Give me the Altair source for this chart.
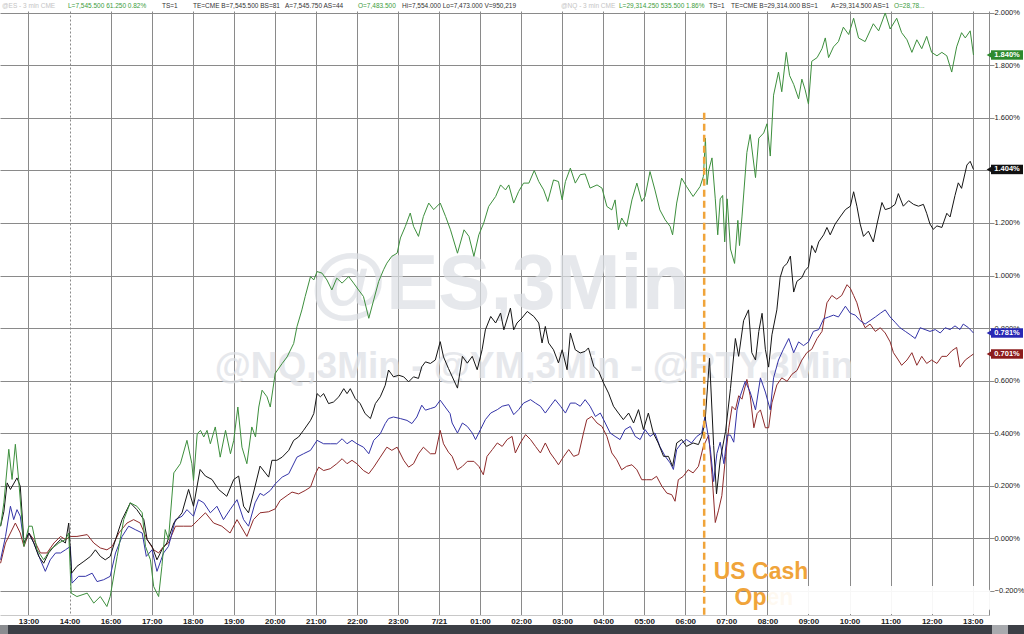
import altair as alt
import pandas as pd

hour_labels = ["13:00", "14:00", "16:00", "17:00", "18:00", "19:00", "20:00", "21:00",
               "22:00", "23:00", "7/21", "01:00", "02:00", "03:00", "04:00", "05:00",
               "06:00", "07:00", "08:00", "09:00", "10:00", "11:00", "12:00", "13:00"]

# x = hour slot on the axis (0 = first 13:00 gridline), y = % change
nq_k = [-0.68, -0.60, -0.48, -0.40, -0.32, -0.24, -0.11, 0.01, 0.09, 0.21, 0.37, 0.53, 0.74, 0.90, 0.98,
        1.04, 1.18, 1.43, 1.59, 1.75, 1.91, 1.99, 2.16, 2.32, 2.48, 2.64, 2.77, 2.85, 2.97, 3.05, 3.17,
        3.25, 3.33, 3.41, 3.54, 3.70, 3.86, 3.98, 4.02, 4.11, 4.19, 4.27, 4.35, 4.43, 4.55, 4.67, 4.80,
        4.92, 5.00, 5.10, 5.20, 5.32, 5.44, 5.53, 5.61, 5.69, 5.81, 5.89, 6.01, 6.18, 6.30, 6.46, 6.54,
        6.66, 6.74, 6.87, 6.95, 7.03, 7.15, 7.27, 7.39, 7.51, 7.64, 7.80, 7.92, 8.04, 8.16, 8.29, 8.41,
        8.53, 8.65, 8.73, 8.85, 8.98, 9.06, 9.18, 9.30, 9.38, 9.50, 9.62, 9.75, 9.87, 10.03, 10.16, 10.28,
        10.45, 10.61, 10.73, 10.85, 10.97, 11.09, 11.21, 11.38, 11.50, 11.62, 11.70, 11.82, 11.94, 12.06,
        12.19, 12.32, 12.43, 12.55, 12.65, 12.79, 12.91, 13.00, 13.08, 13.20, 13.32, 13.44, 13.56, 13.68,
        13.85, 13.97, 14.09, 14.21, 14.29, 14.37, 14.45, 14.57, 14.70, 14.82, 14.94, 15.02, 15.14, 15.26,
        15.38, 15.51, 15.63, 15.69, 15.79, 15.91, 16.03, 16.19, 16.36, 16.44, 16.49, 16.53, 16.57, 16.65,
        16.73, 16.79, 16.85, 16.91, 16.96, 17.02, 17.10, 17.20, 17.28, 17.32, 17.38, 17.50, 17.58, 17.71,
        17.79, 17.91, 17.99, 18.07, 18.15, 18.27, 18.35, 18.46, 18.54, 18.64, 18.76, 18.84, 18.92, 19.00,
        19.08, 19.21, 19.33, 19.41, 19.49, 19.61, 19.73, 19.85, 19.98, 20.10, 20.22, 20.38, 20.50, 20.58,
        20.71, 20.87, 20.99, 21.15, 21.27, 21.40, 21.52, 21.64, 21.76, 21.88, 22.00, 22.13, 22.25, 22.37,
        22.49, 22.61, 22.73, 22.82, 22.94, 23.02]
nq_v = [0.045, 0.134, 0.338, 0.223, 0.357, 0.223, -0.032, 0.045, 0.045, -0.045, -0.083, -0.045, -0.019, -0.006, 0.019,
        -0.210, -0.223, -0.210, -0.248, -0.223, -0.261, -0.223, -0.070, 0.070, 0.134, 0.121, 0.096, -0.032, -0.083, -0.185, -0.223,
        -0.108, 0.032, -0.006, 0.248, 0.283, 0.372, 0.283, 0.219, 0.397, 0.410, 0.385, 0.410, 0.359, 0.423, 0.308, 0.410,
        0.321, 0.372, 0.499, 0.346, 0.283, 0.423, 0.385, 0.499, 0.563, 0.538, 0.499, 0.627, 0.665, 0.690, 0.741, 0.805,
        0.869, 0.920, 0.996, 0.983, 1.015, 1.009, 0.983, 0.945, 0.990, 0.971, 0.996, 0.971, 0.945, 0.920, 0.837, 0.907,
        0.977, 1.022, 1.047, 1.073, 1.085, 1.143, 1.187, 1.238, 1.187, 1.149, 1.225, 1.276, 1.251, 1.276, 1.225, 1.174,
        1.085, 1.174, 1.149, 1.073, 1.155, 1.200, 1.263, 1.301, 1.345, 1.326, 1.345, 1.276, 1.320, 1.352,
        1.352, 1.400, 1.358, 1.326, 1.282, 1.364, 1.358, 1.288, 1.358, 1.409, 1.352, 1.384, 1.387, 1.333,
        1.345, 1.333, 1.263, 1.250, 1.288, 1.174, 1.219, 1.187, 1.288, 1.352, 1.282, 1.301, 1.396, 1.326,
        1.250, 1.212, 1.187, 1.155, 1.276, 1.371, 1.339, 1.301, 1.339, 1.377, 1.523, 1.346, 1.401, 1.448,
        1.292, 1.155, 1.292, 1.305, 1.128, 1.292, 1.101, 1.046, 1.210, 1.114, 1.223, 1.469, 1.537, 1.373,
        1.523, 1.543, 1.578, 1.455, 1.687, 1.775, 1.700, 1.850, 1.762, 1.728, 1.673, 1.748, 1.707, 1.653,
        1.816, 1.830, 1.864, 1.905, 1.830, 1.871, 1.891, 1.946, 1.918, 1.980, 1.905, 1.891, 1.932, 1.959,
        1.932, 2.000, 1.939, 1.980, 1.925, 1.898, 1.850, 1.898, 1.864, 1.911, 1.850, 1.837, 1.850, 1.837,
        1.775, 1.871, 1.925, 1.905, 1.932, 1.840]

es_k = [-0.68, -0.60, -0.52, -0.44, -0.28, -0.20, -0.11, 0.01, 0.13, 0.25, 0.37, 0.49, 0.62, 0.78, 0.90, 0.98,
        1.05, 1.18, 1.35, 1.51, 1.63, 1.75, 1.87, 1.99, 2.12, 2.28, 2.48, 2.64, 2.81, 2.89, 3.01, 3.13, 3.25,
        3.37, 3.54, 3.74, 3.90, 4.02, 4.18, 4.31, 4.47, 4.63, 4.83, 5.00, 5.12, 5.24, 5.36, 5.52, 5.64, 5.85,
        5.93, 6.05, 6.18, 6.34, 6.46, 6.58, 6.70, 6.87, 6.95, 7.03, 7.11, 7.19, 7.31, 7.43, 7.56, 7.68, 7.76,
        7.84, 7.96, 8.08, 8.20, 8.33, 8.45, 8.57, 8.69, 8.77, 8.89, 9.02, 9.14, 9.26, 9.38, 9.50, 9.58, 9.67,
        9.79, 9.91, 10.03, 10.11, 10.23, 10.45, 10.57, 10.69, 10.81, 10.93, 11.05, 11.13, 11.26, 11.38, 11.50,
        11.58, 11.74, 11.82, 11.90, 12.02, 12.15, 12.31, 12.43, 12.51, 12.59, 12.67, 12.79, 12.91, 13.00, 13.12,
        13.20, 13.32, 13.44, 13.56, 13.64, 13.77, 13.89, 14.01, 14.13, 14.25, 14.37, 14.49, 14.62, 14.74, 14.86,
        14.98, 15.10, 15.22, 15.34, 15.47, 15.59, 15.69, 15.79, 15.91, 16.03, 16.19, 16.32, 16.40, 16.48, 16.59,
        16.69, 16.76, 16.85, 16.98, 17.10, 17.22, 17.30, 17.42, 17.54, 17.62, 17.71, 17.79, 17.87, 17.95, 18.03,
        18.11, 18.23, 18.31, 18.39, 18.48, 18.56, 18.64, 18.72, 18.84, 18.92, 19.00, 19.08, 19.17, 19.25, 19.37,
        19.45, 19.53, 19.65, 19.77, 19.90, 20.02, 20.10, 20.18, 20.26, 20.34, 20.46, 20.58, 20.67, 20.79, 20.87,
        20.99, 21.11, 21.19, 21.31, 21.44, 21.56, 21.68, 21.80, 21.88, 21.96, 22.04, 22.13, 22.25, 22.37, 22.45,
        22.57, 22.65, 22.73, 22.86, 22.94, 23.02]
es_v = [0.045, 0.100, 0.210, 0.185, 0.229, 0.197, -0.019, 0.019, -0.019, -0.070, -0.096, -0.057, -0.032, -0.006, -0.019, 0.057,
        -0.134, -0.108, -0.089, -0.070, -0.045, -0.070, -0.083, -0.070, -0.006, 0.070, 0.134, 0.108, 0.070, -0.006, -0.032, -0.083, -0.045,
        -0.019, 0.057, 0.096, 0.185, 0.121, 0.261, 0.236, 0.223, 0.185, 0.159, 0.223, 0.236, 0.121, 0.096, 0.197, 0.274, 0.232,
        0.296, 0.296, 0.308, 0.334, 0.372, 0.385, 0.410, 0.448, 0.474, 0.550, 0.538, 0.550, 0.512, 0.518, 0.538, 0.569, 0.550,
        0.569, 0.531, 0.512, 0.474, 0.455, 0.512, 0.538, 0.582, 0.640, 0.614, 0.620, 0.614, 0.595, 0.614, 0.608, 0.652, 0.671,
        0.665, 0.678, 0.748, 0.690, 0.646, 0.571, 0.692, 0.666, 0.692, 0.641, 0.717, 0.793, 0.844, 0.819, 0.857,
        0.793, 0.876, 0.793, 0.819, 0.838, 0.863, 0.844, 0.819, 0.743, 0.806, 0.743, 0.717, 0.667, 0.717, 0.641,
        0.781, 0.717, 0.705, 0.711, 0.724, 0.654, 0.635, 0.590, 0.552, 0.502, 0.476, 0.451, 0.476, 0.438, 0.489,
        0.413, 0.476, 0.400, 0.362, 0.311, 0.311, 0.273, 0.362, 0.375, 0.349, 0.362, 0.356, 0.387, 0.440, 0.685,
        0.352, 0.168, 0.297, 0.406, 0.569, 0.760, 0.692, 0.828, 0.869, 0.706, 0.678, 0.787, 0.856, 0.719, 0.651,
        0.774, 0.869, 0.992, 1.033, 1.046, 1.074, 0.937, 0.978, 0.992, 1.019, 1.033, 1.114, 1.087, 1.128, 1.155,
        1.183, 1.155, 1.196, 1.223, 1.251, 1.264, 1.319, 1.264, 1.196, 1.149, 1.169, 1.128, 1.196, 1.278, 1.251,
        1.257, 1.271, 1.312, 1.264, 1.285, 1.271, 1.264, 1.271, 1.237, 1.196, 1.176, 1.189, 1.183, 1.237, 1.223,
        1.305, 1.353, 1.332, 1.421, 1.435, 1.404]

ym_k = [-0.68, -0.56, -0.44, -0.36, -0.28, -0.20, -0.11, 0.01, 0.13, 0.29, 0.41, 0.53, 0.66, 0.78, 0.90, 1.02,
        1.06, 1.22, 1.39, 1.55, 1.67, 1.83, 1.99, 2.12, 2.28, 2.44, 2.60, 2.77, 2.87, 3.01, 3.13, 3.29, 3.41,
        3.58, 3.74, 3.86, 4.02, 4.14, 4.27, 4.43, 4.59, 4.75, 4.91, 5.08, 5.24, 5.36, 5.52, 5.64, 5.73, 5.89,
        6.01, 6.18, 6.34, 6.54, 6.70, 6.87, 7.03, 7.19, 7.35, 7.51, 7.64, 7.76, 7.88, 8.00, 8.16, 8.29, 8.41,
        8.57, 8.69, 8.77, 8.89, 9.06, 9.22, 9.34, 9.46, 9.58, 9.67, 9.79, 9.91, 10.03, 10.15, 10.27, 10.32,
        10.45, 10.57, 10.69, 10.81, 10.89, 11.01, 11.13, 11.26, 11.42, 11.54, 11.70, 11.82, 11.94, 12.06, 12.23,
        12.35, 12.47, 12.59, 12.71, 12.83, 12.96, 13.08, 13.20, 13.32, 13.44, 13.56, 13.68, 13.81, 13.93, 14.05,
        14.17, 14.29, 14.41, 14.53, 14.66, 14.78, 14.90, 15.02, 15.14, 15.26, 15.38, 15.51, 15.63, 15.71, 15.79,
        15.91, 16.03, 16.15, 16.28, 16.40, 16.48, 16.61, 16.69, 16.77, 16.85, 16.94, 17.02, 17.10, 17.18, 17.26,
        17.34, 17.46, 17.58, 17.71, 17.83, 17.95, 18.07, 18.15, 18.27, 18.39, 18.52, 18.64, 18.76, 18.88, 19.00,
        19.12, 19.25, 19.37, 19.49, 19.61, 19.73, 19.90, 20.02, 20.14, 20.26, 20.38, 20.50, 20.63, 20.75, 20.87,
        20.99, 21.11, 21.23, 21.36, 21.48, 21.60, 21.72, 21.84, 21.96, 22.09, 22.21, 22.33, 22.45, 22.57, 22.69,
        22.77, 22.90, 23.02]
ym_v = [-0.083, 0.006, 0.121, 0.070, 0.108, 0.083, -0.019, 0.019, -0.019, -0.083, -0.127, -0.083, -0.057, -0.057, -0.045, -0.032,
        -0.172, -0.146, -0.146, -0.134, -0.166, -0.159, -0.146, -0.057, 0.006, 0.045, 0.032, 0.019, -0.070, -0.045, -0.127, -0.057, -0.032,
        0.070, 0.083, 0.108, 0.083, 0.146, 0.134, 0.096, 0.121, 0.070, 0.108, 0.146, 0.070, 0.045, 0.134, 0.170, 0.162, 0.181,
        0.206, 0.232, 0.245, 0.308, 0.321, 0.334, 0.372, 0.359, 0.359, 0.359, 0.378, 0.359, 0.372, 0.359, 0.346, 0.321, 0.372,
        0.397, 0.436, 0.455, 0.461, 0.455, 0.448, 0.436, 0.461, 0.506, 0.487, 0.493, 0.499, 0.525, 0.499, 0.474, 0.438,
        0.400, 0.438, 0.425, 0.400, 0.375, 0.413, 0.451, 0.476, 0.489, 0.502, 0.508, 0.470, 0.489, 0.514, 0.527,
        0.514, 0.502, 0.476, 0.502, 0.527, 0.502, 0.476, 0.514, 0.514, 0.502, 0.527, 0.502, 0.463, 0.476, 0.438,
        0.400, 0.387, 0.375, 0.413, 0.425, 0.387, 0.375, 0.413, 0.387, 0.400, 0.349, 0.311, 0.286, 0.261, 0.337,
        0.362, 0.375, 0.362, 0.387, 0.400, 0.463, 0.338, 0.215, 0.322, 0.365, 0.283, 0.392, 0.392, 0.365, 0.488,
        0.542, 0.597, 0.556, 0.488, 0.610, 0.556, 0.488, 0.610, 0.678, 0.719, 0.760, 0.706, 0.747, 0.733, 0.747,
        0.787, 0.794, 0.835, 0.842, 0.849, 0.842, 0.883, 0.856, 0.849, 0.828, 0.815, 0.828, 0.842, 0.856, 0.869,
        0.842, 0.822, 0.801, 0.787, 0.774, 0.760, 0.801, 0.794, 0.787, 0.794, 0.781, 0.801, 0.794, 0.808, 0.794,
        0.815, 0.801, 0.781]

rty_k = [-0.68, -0.56, -0.44, -0.32, -0.20, -0.11, 0.01, 0.13, 0.29, 0.45, 0.62, 0.78, 0.90, 1.02, 1.18, 1.43,
         1.59, 1.75, 1.91, 2.04, 2.20, 2.40, 2.56, 2.72, 2.89, 3.05, 3.17, 3.29, 3.41, 3.58, 3.78, 3.98, 4.14,
         4.31, 4.51, 4.71, 4.91, 5.08, 5.32, 5.48, 5.64, 5.85, 6.01, 6.13, 6.30, 6.42, 6.58, 6.74, 6.87, 6.99,
         7.07, 7.19, 7.35, 7.51, 7.64, 7.76, 7.88, 8.00, 8.16, 8.29, 8.41, 8.57, 8.73, 8.85, 8.98, 9.14, 9.26,
         9.38, 9.50, 9.62, 9.79, 9.91, 10.03, 10.11, 10.23, 10.32, 10.45, 10.57, 10.69, 10.85, 10.97, 11.08, 11.17,
         11.30, 11.42, 11.54, 11.66, 11.78, 11.86, 11.98, 12.11, 12.23, 12.35, 12.47, 12.59, 12.71, 12.83, 12.91,
         13.04, 13.16, 13.28, 13.40, 13.52, 13.60, 13.72, 13.85, 13.97, 14.09, 14.21, 14.33, 14.45, 14.57, 14.70,
         14.82, 14.94, 15.06, 15.18, 15.30, 15.43, 15.55, 15.67, 15.75, 15.83, 15.95, 16.07, 16.19, 16.32, 16.44,
         16.57, 16.65, 16.73, 16.81, 16.89, 16.98, 17.06, 17.14, 17.22, 17.30, 17.38, 17.50, 17.58, 17.67, 17.75,
         17.83, 17.95, 18.03, 18.11, 18.23, 18.35, 18.48, 18.60, 18.72, 18.84, 18.96, 19.08, 19.21, 19.33, 19.45,
         19.57, 19.69, 19.81, 19.94, 20.02, 20.10, 20.18, 20.30, 20.38, 20.50, 20.63, 20.75, 20.87, 20.99, 21.07,
         21.19, 21.27, 21.40, 21.52, 21.64, 21.76, 21.88, 22.00, 22.13, 22.25, 22.37, 22.49, 22.61, 22.69, 22.82,
         22.94, 23.02]
rty_v = [-0.096, -0.019, 0.019, 0.057, 0.019, -0.032, 0.019, -0.006, -0.057, -0.057, -0.019, 0.006, -0.006, 0.006, 0.006, 0.013,
         -0.019, -0.038, -0.045, -0.032, 0.019, 0.057, 0.070, 0.057, -0.006, -0.045, -0.057, -0.032, -0.019, 0.045, 0.045, 0.045, 0.070,
         0.096, 0.057, 0.045, 0.019, 0.070, 0.006, 0.070, 0.096, 0.100, 0.111, 0.143, 0.162, 0.175, 0.168, 0.181, 0.194, 0.245,
         0.270, 0.257, 0.264, 0.283, 0.302, 0.283, 0.296, 0.283, 0.257, 0.245, 0.270, 0.308, 0.346, 0.334, 0.346, 0.296, 0.270,
         0.283, 0.321, 0.346, 0.321, 0.321, 0.410, 0.359, 0.327, 0.311, 0.260, 0.273, 0.292, 0.292, 0.273, 0.241, 0.311,
         0.337, 0.362, 0.349, 0.375, 0.387, 0.324, 0.362, 0.394, 0.375, 0.349, 0.324, 0.362, 0.324, 0.298, 0.279,
         0.311, 0.337, 0.311, 0.318, 0.400, 0.451, 0.463, 0.438, 0.425, 0.387, 0.324, 0.298, 0.260, 0.273, 0.279,
         0.260, 0.222, 0.222, 0.222, 0.235, 0.197, 0.171, 0.165, 0.140, 0.222, 0.235, 0.260, 0.248, 0.273, 0.349,
         0.392, 0.243, 0.059, 0.106, 0.161, 0.311, 0.420, 0.501, 0.488, 0.542, 0.529, 0.604, 0.542, 0.420, 0.474,
         0.488, 0.420, 0.420, 0.515, 0.583, 0.610, 0.597, 0.624, 0.638, 0.678, 0.706, 0.719, 0.760, 0.787, 0.896,
         0.924, 0.910, 0.924, 0.965, 0.951, 0.924, 0.896, 0.828, 0.801, 0.815, 0.787, 0.801, 0.781, 0.747, 0.706,
         0.678, 0.658, 0.678, 0.706, 0.658, 0.692, 0.665, 0.678, 0.665, 0.692, 0.692, 0.713, 0.726, 0.651, 0.678,
         0.692, 0.701]

series_names = ["@RTY", "@YM", "@ES", "@NQ"]
series_k = [rty_k, ym_k, es_k, nq_k]
series_v = [rty_v, ym_v, es_v, nq_v]
line_colors = ["#8e2a2a", "#3434a8", "#151515", "#3d8f3d"]
badge_colors = ["#8c1c1c", "#2828b4", "#111111", "#2e8a2e"]

last_labels = ["0.701%", "0.781%", "1.404%", "1.840%"]

cash_open_k = 16.46
cash_open_top = 1.62
session_break_k = 1

header_text = ["@ES - 3 min CME", "L=7,545.500 61.250 0.82%", "TS=1", "TE=CME B=7,545.500 BS=81",
               "A=7,545.750 AS=44", "O=7,483.500", "Hi=7,554.000 Lo=7,473.000 V=950,219",
               "@NQ - 3 min CME", "L=29,314.250 535.500 1.86%", "TS=1", "TE=CME B=29,314.000 BS=1",
               "A=29,314.500 AS=1", "O=28,78..."]
header_x = [2, 68, 162, 193, 285, 358, 402, 561, 619, 709, 731, 831, 894]
header_col = ["#c4c4c4", "#3c9c3c", "#333333", "#333333", "#333333", "#3c9c3c", "#333333",
              "#c4c4c4", "#3c9c3c", "#333333", "#333333", "#333333", "#3c9c3c"]

FONT = "Liberation Sans"
W, H = 989, 604

frames = []
for name, ks, vs in zip(series_names, series_k, series_v):
    frames.append(pd.DataFrame({"series": name, "k": ks, "v": vs}))
df = pd.concat(frames, ignore_index=True)

badges = pd.DataFrame({
    "series": series_names,
    "v": [vs[-1] for vs in series_v],
    "label": last_labels,
    "col": badge_colors,
})
badges["lo"] = badges["v"] - 0.018
badges["hi"] = badges["v"] + 0.018

xscale = alt.Scale(domain=[-0.694, 23.398], nice=False, zero=False)
yscale = alt.Scale(domain=[-0.2933, 2.0076], nice=False, zero=False)

label_expr = "[" + ",".join("'%s'" % s for s in hour_labels) + "][datum.value]"

xaxis = alt.Axis(values=list(range(len(hour_labels))), labelExpr=label_expr, title=None,
                 grid=True, gridColor="#8a8a8a", gridWidth=1,
                 gridDash=alt.condition("datum.value == %d" % session_break_k, alt.value([2, 2]), alt.value([])),
                 ticks=False, domainColor="#c8c8c8", labelFont=FONT, labelFontSize=8,
                 labelColor="#1a1a1a", labelPadding=2, labelFontWeight="bold")
# the 1.400% label sits fully under the ES last-value badge in the reference
yaxis = alt.Axis(orient="right", values=[round(-0.2 + 0.2 * i, 1) for i in range(12)],
                 labelExpr="datum.value == 1.4 ? '' : format(datum.value, '.3f') + '%'", title=None,
                 grid=True, gridColor="#8a8a8a", gridWidth=1, tickSize=5, tickColor="#8a8a8a",
                 domainColor="#8a8a8a", labelFont=FONT, labelFontSize=7.5, labelColor="#222222",
                 labelPadding=0)

one = pd.DataFrame({"a": [0]})

wm1 = alt.Chart(pd.DataFrame({"t": ["@ES,3Min"]})).mark_text(
    font=FONT, fontSize=78, fontWeight="bold", color="#dde0e5", opacity=0.72, baseline="middle", align="center"
).encode(text="t:N", x=alt.value(500), y=alt.value(275))
wm2 = alt.Chart(pd.DataFrame({"t": ["@NQ,3Min - @YM,3Min - @RTY,3Min"]})).mark_text(
    font=FONT, fontSize=37, fontWeight="bold", color="#dde0e5", opacity=0.72, baseline="middle", align="center"
).encode(text="t:N", x=alt.value(534), y=alt.value(356))

lines = alt.Chart(df).mark_line(strokeWidth=1, interpolate="linear").encode(
    x=alt.X("k:Q", scale=xscale, axis=xaxis),
    y=alt.Y("v:Q", scale=yscale, axis=yaxis),
    color=alt.Color("series:N", scale=alt.Scale(domain=series_names, range=line_colors), legend=None),
    detail="series:N",
)

open_rule = alt.Chart(pd.DataFrame({"k": [cash_open_k], "v": [cash_open_top]})).mark_rule(
    color="#f0a43a", strokeWidth=2.5, strokeDash=[7, 4]
).encode(x=alt.X("k:Q", scale=xscale), y=alt.Y("v:Q", scale=yscale), y2=alt.value(H))

txt1 = alt.Chart(pd.DataFrame({"t": ["US Cash"]})).mark_text(
    font=FONT, fontSize=23, fontWeight="bold", color="#f0a43a", align="center", baseline="middle"
).encode(text="t:N", x=alt.value(761), y=alt.value(561))
txt2 = alt.Chart(pd.DataFrame({"t": ["Open"]})).mark_text(
    font=FONT, fontSize=23, fontWeight="bold", color="#f0a43a", align="center", baseline="middle"
).encode(text="t:N", x=alt.value(764), y=alt.value(587))

blur = alt.Chart(one).mark_rect(color="white", opacity=0.93, cornerRadius=9).encode(
    x=alt.value(768), x2=alt.value(991), y=alt.value(575), y2=alt.value(603))

bar = alt.Chart(one).mark_rect(color="#3c3f46").encode(
    x=alt.value(0), x2=alt.value(1024), y=alt.value(614), y2=alt.value(623))
bar_l = alt.Chart(one).mark_rect(color="#8a8c90").encode(
    x=alt.value(0), x2=alt.value(8), y=alt.value(614), y2=alt.value(623))
bar_r = alt.Chart(one).mark_rect(color="#a8aaae").encode(
    x=alt.value(992), x2=alt.value(1008), y=alt.value(614), y2=alt.value(623))

badge_rect = alt.Chart(badges).mark_rect().encode(
    x=alt.value(991), x2=alt.value(1023),
    y=alt.Y("lo:Q", scale=yscale), y2="hi:Q",
    color=alt.Color("col:N", scale=None),
)
badge_tip = alt.Chart(badges).mark_point(shape="triangle-left", filled=True, size=30, opacity=1).encode(
    x=alt.value(989), y=alt.Y("v:Q", scale=yscale), color=alt.Color("col:N", scale=None))
badge_txt = alt.Chart(badges).mark_text(
    font=FONT, fontSize=7.5, fontWeight="bold", color="white", align="center", baseline="middle"
).encode(x=alt.value(1007), y=alt.Y("v:Q", scale=yscale), text="label:N")

header = alt.Chart(pd.DataFrame({"t": header_text, "px": header_x, "col": header_col})).mark_text(
    font=FONT, fontSize=6.5, align="left", baseline="middle"
).encode(text="t:N", x=alt.X("px:Q", scale=None), y=alt.value(-5), color=alt.Color("col:N", scale=None))

chart = alt.layer(
    wm1, wm2, lines, open_rule, txt1, txt2, blur, bar, bar_l, bar_r,
    badge_rect, badge_tip, badge_txt, header
).properties(
    width=W, height=H, background="white",
    padding={"left": 0, "top": 11, "right": 35, "bottom": 19},
    autosize=alt.AutoSizeParams(type="none"),
).configure_view(stroke=None)

chart.save("out.html", embed_options={"renderer": "svg", "actions": False})
